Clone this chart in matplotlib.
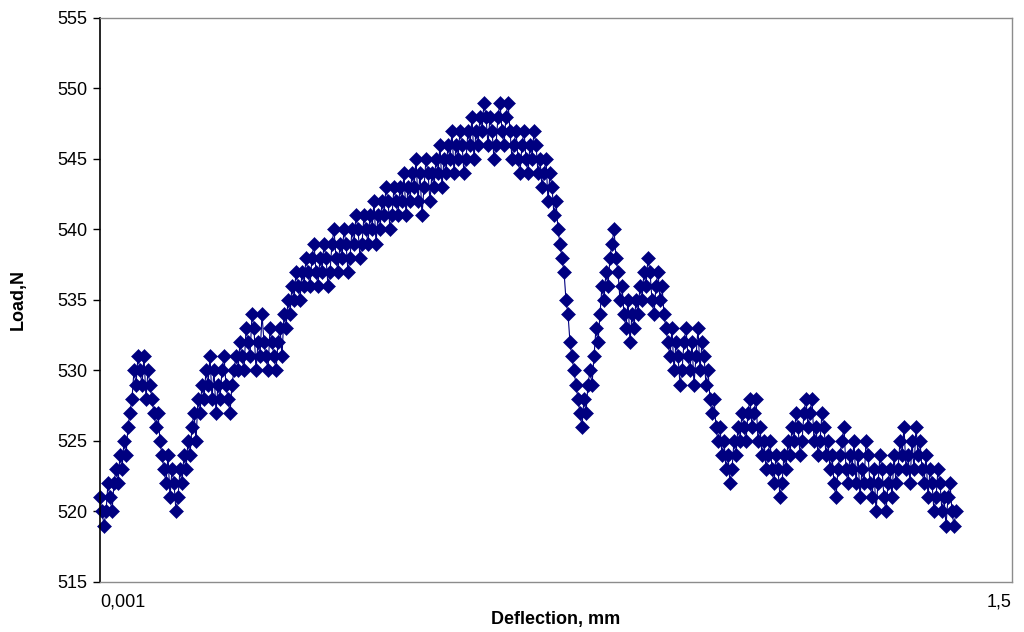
import numpy as np
import matplotlib
matplotlib.use("Agg")
import matplotlib.pyplot as plt

# load readings (N), one per deflection step (15 per row)
load_rise = [521, 520, 519, 520, 522, 521, 520, 522, 523, 522, 524, 523, 525, 524, 526,
             527, 528, 530, 529, 531, 530, 529, 531, 528, 530, 529, 528, 527, 526, 527,
             525, 524, 523, 522, 524, 521, 523, 522, 520, 521, 523, 522, 524, 523, 525,
             524, 526, 527, 525, 528, 527, 529, 528, 530, 529, 531, 528, 530, 527, 529,
             528, 530, 531, 529, 528, 527, 529, 530, 531, 530, 532, 531, 530, 533, 532,
             531, 534, 533, 530, 532, 531, 534, 532, 531, 530, 533, 532, 531, 530, 532,
             533, 531, 534, 533, 535, 534, 536, 535, 537, 536, 535, 537, 536, 538, 537,
             536, 538, 539, 537, 536, 538, 537, 539, 538, 536, 537, 539, 540, 538, 537,
             539, 538, 540, 539, 537, 538, 540, 539, 541, 540, 538, 539, 541, 540, 539,
             541, 540, 542, 539, 541, 540, 542, 541, 543, 542, 540, 541, 543, 542, 541,
             543, 542, 544, 541, 543, 542, 544, 543, 545, 542, 544, 541, 543, 545, 544,
             542, 544, 543, 545, 544, 546, 543, 545, 544, 546, 545, 547, 544, 546, 545,
             547, 546, 544, 545, 547, 546, 548, 545, 547, 546, 548, 547, 549, 548, 546,
             548, 547, 545, 546, 548, 549, 547, 546, 548, 549, 547, 545, 546, 547, 545]
load_drop = [544, 546, 547, 545, 544, 546, 545, 547, 546, 544, 545, 543, 544, 545, 542,
             544, 543, 541, 542, 540, 539, 538, 537, 535, 534, 532, 531, 530, 529, 528,
             527, 526, 528, 527, 529, 530, 529, 531, 533, 532, 534, 536, 535, 537, 536,
             538, 539, 540, 538, 537, 535, 536, 534, 533, 535, 532, 534, 533, 535, 534,
             536, 535, 537, 536, 538, 537, 535, 534, 536, 537, 535, 536, 534, 533, 532,
             531, 533, 530, 532, 531, 529, 530, 532, 533, 531, 530, 532, 529, 531, 533,
             530, 532, 531, 529, 530, 528, 527, 528, 526, 525, 526, 524, 525, 523, 524]
load_tail = [522, 523, 525, 524, 526, 525, 527, 526, 525, 527, 528, 526, 527, 528, 525,
             526, 524, 525, 523, 524, 525, 523, 522, 524, 523, 521, 522, 524, 523, 525,
             524, 526, 525, 527, 526, 524, 525, 527, 528, 526, 527, 528, 525, 526, 524,
             525, 527, 526, 524, 525, 523, 524, 522, 521, 523, 524, 525, 526, 523, 522,
             524, 523, 525, 522, 524, 521, 523, 522, 525, 524, 522, 521, 523, 520, 522,
             524, 523, 521, 520, 522, 523, 521, 524, 522, 523, 525, 524, 526, 523, 524,
             522, 525, 523, 526, 524, 525, 523, 522, 524, 521, 523, 522, 520, 521, 523,
             522, 520, 521, 519, 521, 522, 520, 519, 520]
load = load_rise + load_drop + load_tail

y_ticks = [515, 520, 525, 530, 535, 540, 545, 550, 555]
x_first_label = "0,001"
x_last_label = "1,5"

navy = "#000080"
plt.rcParams["font.family"] = ["Liberation Sans", "DejaVu Sans"]

fig = plt.figure(figsize=(10.24, 6.32), dpi=100)
ax = fig.add_axes([100 / 1024, 50 / 632, 912 / 1024, 564 / 632])

steps = np.arange(len(load))
ax.plot(steps, load, color=navy, lw=0.8, marker="D", ms=7.5,
        mfc=navy, mec=navy, mew=0.4, clip_on=False)

ax.set_xlim(0, 456)
ax.set_ylim(515, 555)
ax.set_yticks(y_ticks)
ax.set_yticklabels([str(v) for v in y_ticks], fontsize=13)
ax.set_xticks([])
ax.tick_params(axis="y", direction="out", length=5, width=1, color="black", pad=4)

ax.spines["left"].set_color("black")
ax.spines["left"].set_linewidth(1.2)
for side in ["top", "right", "bottom"]:
    ax.spines[side].set_color("#8c8c8c")
    ax.spines[side].set_linewidth(1.0)

# category style labels at both ends of the x axis
ax.text(0, -0.02, x_first_label, transform=ax.transAxes, ha="left", va="top", fontsize=13)
ax.text(1, -0.02, x_last_label, transform=ax.transAxes, ha="right", va="top", fontsize=13)

ax.set_xlabel("Deflection, mm", fontsize=13, fontweight="bold", labelpad=21)
ax.set_ylabel("Load,N", fontsize=13, fontweight="bold", labelpad=22)

fig.savefig("out.png", dpi=100)
